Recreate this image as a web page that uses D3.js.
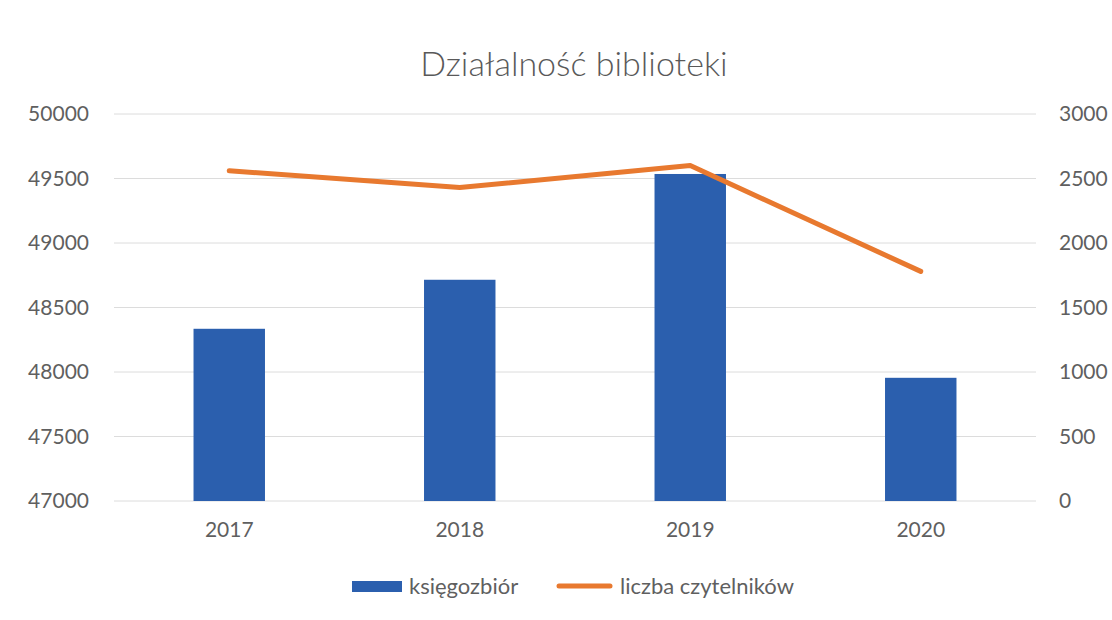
<!DOCTYPE html>
<html>
<head>
<meta charset="utf-8">
<script src="https://cdn.jsdelivr.net/npm/d3@7"></script>
<style>
  body { margin: 0; background: #fff; }
  text { font-family: Lato, "Open Sans", sans-serif; }
</style>
</head>
<body>
<script>
// dane wykresu
const years = ['2017', '2018', '2019', '2020'];
const ksiegozbior = [48335, 48715, 49535, 47955];
const czytelnicy = [2560, 2430, 2600, 1780];
const leftTicks = [47000, 47500, 48000, 48500, 49000, 49500, 50000];
const rightTicks = [0, 500, 1000, 1500, 2000, 2500, 3000];

const width = 1112;
const height = 620;
const margin = { top: 114, right: 76, bottom: 119, left: 114 };

const svg = d3.select('body').append('svg')
    .attr('width', width)
    .attr('height', height);

// tytuł
svg.append('text')
    .attr('x', 574)
    .attr('y', 76)
    .attr('text-anchor', 'middle')
    .attr('font-size', 34)
    .attr('font-weight', 300)
    .attr('fill', '#595959')
    .text('Działalność biblioteki');

const x = d3.scaleBand()
    .domain(years)
    .range([margin.left, width - margin.right])
    .paddingInner(0.69)
    .paddingOuter(0.345);

const yL = d3.scaleLinear()
    .domain([47000, 50000])
    .range([height - margin.bottom, margin.top]);

const yR = d3.scaleLinear()
    .domain([0, 3000])
    .range([height - margin.bottom, margin.top]);

// siatka
svg.append('g')
    .selectAll('line')
    .data(leftTicks)
    .enter()
    .append('line')
    .attr('x1', margin.left)
    .attr('x2', width - margin.right)
    .attr('y1', d => yL(d))
    .attr('y2', d => yL(d))
    .attr('stroke', '#dcdcdc')
    .attr('stroke-width', 1);

// lewa oś
const axisL = svg.append('g')
    .attr('transform', `translate(${margin.left - 22}, 0)`)
    .call(d3.axisLeft(yL).tickValues(leftTicks).tickSize(0).tickFormat(d3.format('d')));
axisL.select('.domain').remove();
axisL.selectAll('text')
    .attr('font-size', 21)
    .attr('fill', '#5f5f5f');

// prawa oś
const axisR = svg.append('g')
    .attr('transform', `translate(${width - margin.right + 20}, 0)`)
    .call(d3.axisRight(yR).tickValues(rightTicks).tickSize(0).tickFormat(d3.format('d')));
axisR.select('.domain').remove();
axisR.selectAll('text')
    .attr('font-size', 21)
    .attr('fill', '#5f5f5f');

// oś X
const axisX = svg.append('g')
    .attr('transform', `translate(0, ${height - margin.bottom + 18})`)
    .call(d3.axisBottom(x).tickSize(0));
axisX.select('.domain').remove();
axisX.selectAll('text')
    .attr('font-size', 21)
    .attr('fill', '#5f5f5f');

// słupki
svg.append('g')
    .selectAll('rect')
    .data(ksiegozbior)
    .enter()
    .append('rect')
    .attr('x', (d, i) => x(years[i]))
    .attr('y', d => yL(d))
    .attr('width', x.bandwidth())
    .attr('height', d => yL(47000) - yL(d))
    .attr('fill', '#2b5fae');

// linia
const line = d3.line()
    .x((d, i) => x(years[i]) + x.bandwidth() / 2)
    .y(d => yR(d));

svg.append('path')
    .datum(czytelnicy)
    .attr('fill', 'none')
    .attr('stroke', '#e8792f')
    .attr('stroke-width', 5)
    .attr('stroke-linejoin', 'round')
    .attr('stroke-linecap', 'round')
    .attr('d', line);

// legenda
const legend = svg.append('g').attr('transform', 'translate(0, 586)');
legend.append('rect')
    .attr('x', 352)
    .attr('y', -5)
    .attr('width', 50)
    .attr('height', 11)
    .attr('fill', '#2b5fae');
legend.append('text')
    .attr('x', 409)
    .attr('y', 8)
    .attr('font-size', 22)
    .attr('fill', '#5f5f5f')
    .text('księgozbiór');
legend.append('line')
    .attr('x1', 559)
    .attr('x2', 610)
    .attr('y1', 0)
    .attr('y2', 0)
    .attr('stroke', '#e8792f')
    .attr('stroke-width', 5)
    .attr('stroke-linecap', 'round');
legend.append('text')
    .attr('x', 620)
    .attr('y', 8)
    .attr('font-size', 22)
    .attr('fill', '#5f5f5f')
    .text('liczba czytelników');
</script>
</body>
</html>
